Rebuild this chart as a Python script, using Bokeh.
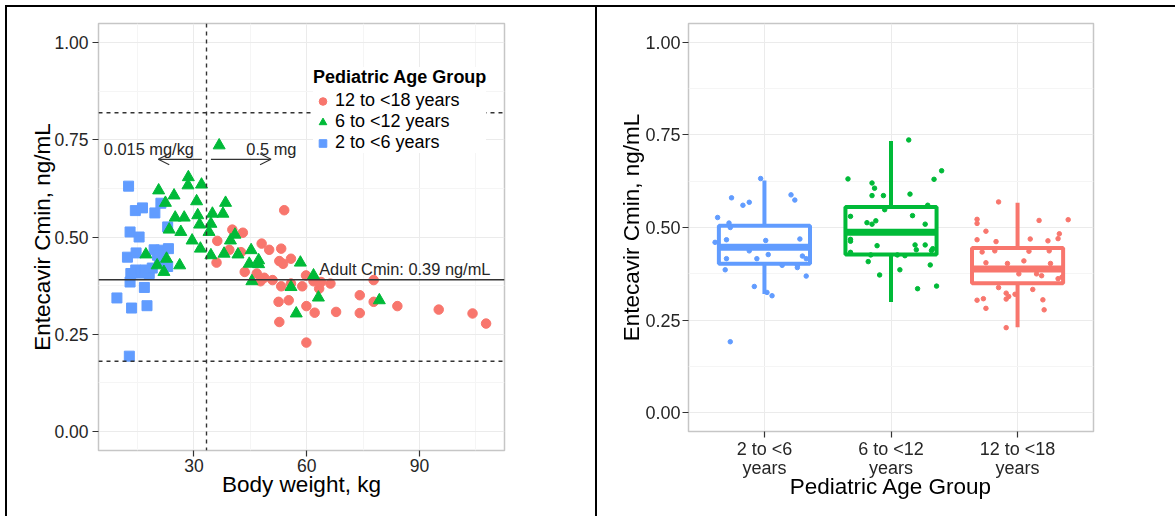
from bokeh.plotting import figure
from bokeh.models import (Span, Label, Arrow, OpenHead, Legend, LegendItem, FixedTicker,
                          ColumnDataSource, NumeralTickFormatter, Div)
from bokeh.embed import file_html
from bokeh.resources import INLINE

FONT = "Liberation Sans"
RED, GREEN, BLUE = "#F8766D", "#00BA38", "#619CFF"

# ---------------- data ----------------
group_labels = ["12 to <18 years", "6 to <12 years", "2 to <6 years"]

blue_wt = [12.6, 14.4, 16.3, 19.6, 21.2, 13.0, 15.4, 23.0, 12.3, 14.6, 19.4, 21.2, 23.2, 20.3,
           20.8, 23.0, 13.2, 14.5, 15.9, 17.0, 18.1, 18.9, 13.0, 16.8, 9.5, 13.4, 17.5, 12.8]
blue_cmin = [0.631, 0.568, 0.575, 0.562, 0.587, 0.513, 0.500, 0.526, 0.448, 0.459, 0.467, 0.466,
             0.470, 0.453, 0.440, 0.424, 0.406, 0.415, 0.407, 0.415, 0.406, 0.420, 0.384, 0.370,
             0.343, 0.317, 0.323, 0.193]

green_wt = [28.5, 28.4, 32.0, 20.6, 24.7, 22.4, 30.7, 38.4, 25.0, 27.4, 31.0, 34.9, 37.7, 31.5,
            34.5, 23.4, 26.5, 34.0, 29.5, 39.7, 31.7, 40.9, 36.7, 34.5, 38.0, 41.7, 45.2, 17.2,
            22.7, 26.2, 20.2, 22.0, 44.7, 47.2, 47.2, 58.3, 45.4, 61.8, 55.8, 63.1, 79.3, 57.2]
green_cmin = [0.654, 0.633, 0.635, 0.620, 0.607, 0.588, 0.592, 0.588, 0.550, 0.550, 0.556, 0.560,
              0.560, 0.532, 0.534, 0.519, 0.513, 0.513, 0.491, 0.491, 0.470, 0.506, 0.736, 0.453,
              0.457, 0.455, 0.466, 0.455, 0.444, 0.427, 0.427, 0.410, 0.431, 0.440, 0.430, 0.434,
              0.386, 0.401, 0.371, 0.344, 0.337, 0.303]

red_wt = [54.0, 36.2, 40.2, 43.0, 39.4, 42.5, 36.0, 48.0, 50.0, 53.2, 52.7, 55.8, 53.7, 43.5,
          46.7, 48.7, 47.7, 50.9, 53.2, 55.8, 58.8, 59.8, 61.8, 63.3, 63.8, 66.3, 77.8, 52.5,
          55.2, 59.9, 62.1, 67.8, 74.1, 74.1, 77.8, 84.1, 95.1, 104.1, 107.7, 52.7, 59.9]
red_cmin = [0.569, 0.490, 0.519, 0.511, 0.467, 0.461, 0.434, 0.483, 0.467, 0.470, 0.438, 0.444,
            0.431, 0.410, 0.406, 0.395, 0.386, 0.389, 0.373, 0.380, 0.373, 0.401, 0.386, 0.367,
            0.384, 0.380, 0.389, 0.333, 0.337, 0.322, 0.305, 0.307, 0.350, 0.304, 0.333, 0.322,
            0.313, 0.303, 0.277, 0.281, 0.228]

adult_cmin = 0.39
ref_high = 0.82
ref_low = 0.18
weight_cut = 33.33  # 0.5 mg / 0.015 mg/kg

# box plot panel
box_labels = ["2 to <6\nyears", "6 to <12\nyears", "12 to <18\nyears"]
box_low = [0.321, 0.299, 0.231]
box_q1 = [0.402, 0.427, 0.350]
box_med = [0.447, 0.487, 0.388]
box_q3 = [0.505, 0.555, 0.445]
box_high = [0.627, 0.733, 0.567]

jit_blue_dx = [-0.03, -0.26, -0.17, -0.12, 0.21, 0.24, -0.37, -0.28, -0.27, -0.39, -0.30, 0.01,
               0.28, -0.12, -0.30, -0.06, 0.03, 0.30, 0.33, 0.14, 0.26, 0.26, -0.31, 0.33, -0.08,
               0.02, 0.06, -0.27]
jit_blue_y = [0.632, 0.580, 0.560, 0.568, 0.588, 0.574, 0.527, 0.512, 0.500, 0.460, 0.467, 0.465,
              0.469, 0.437, 0.416, 0.416, 0.427, 0.423, 0.416, 0.398, 0.398, 0.392, 0.386, 0.369,
              0.341, 0.325, 0.316, 0.192]

jit_green_dx = [0.14, -0.34, -0.15, -0.13, -0.15, -0.06, 0.15, 0.34, 0.40, 0.29, -0.05, -0.32,
                0.17, -0.19, -0.15, -0.12, 0.27, -0.32, -0.32, -0.11, 0.19, 0.27, 0.20, 0.33,
                0.32, -0.16, 0.05, 0.11, -0.32, -0.18, 0.07, 0.31, -0.09, 0.21, 0.36]
jit_green_y = [0.736, 0.631, 0.620, 0.606, 0.586, 0.586, 0.590, 0.630, 0.653, 0.560, 0.548, 0.530,
               0.532, 0.513, 0.509, 0.518, 0.509, 0.468, 0.463, 0.451, 0.453, 0.453, 0.440, 0.443,
               0.438, 0.426, 0.426, 0.424, 0.433, 0.408, 0.386, 0.399, 0.372, 0.335, 0.342]

jit_red_dx = [-0.15, -0.32, -0.32, -0.25, 0.17, 0.40, -0.32, -0.17, 0.10, 0.24, 0.32, 0.33, -0.28,
              -0.18, 0.09, 0.25, -0.25, -0.08, 0.05, 0.26, 0.01, 0.15, 0.19, 0.32, 0.35, -0.15,
              0.12, -0.09, -0.07, -0.09, -0.02, -0.32, -0.27, 0.20, -0.25, 0.21, -0.09]
jit_red_y = [0.569, 0.522, 0.511, 0.490, 0.519, 0.521, 0.467, 0.462, 0.469, 0.464, 0.470, 0.483,
             0.434, 0.437, 0.436, 0.437, 0.405, 0.403, 0.410, 0.403, 0.375, 0.375, 0.370, 0.362,
             0.366, 0.338, 0.333, 0.323, 0.314, 0.307, 0.320, 0.304, 0.308, 0.305, 0.282, 0.278,
             0.230]

TXT = "#262626"


def style(p, tick_size, title_size):
    p.title.visible = False
    p.background_fill_color = "white"
    p.border_fill_color = "white"
    p.outline_line_color = "#C6C6C6"
    p.outline_line_width = 1.5
    for ax in p.axis:
        ax.axis_line_color = None
        ax.major_tick_line_color = "#333333"
        ax.major_tick_line_width = 1.2
        ax.major_tick_out = 6
        ax.major_tick_in = 0
        ax.minor_tick_line_color = None
        ax.major_label_text_font = FONT
        ax.major_label_text_font_size = tick_size
        ax.major_label_text_color = TXT
        ax.axis_label_text_font = FONT
        ax.axis_label_text_font_style = "normal"
        ax.axis_label_text_font_size = title_size
        ax.axis_label_text_color = "black"
    for g in (p.xgrid, p.ygrid):
        g.grid_line_color = "#EBEBEB"
        g.grid_line_width = 1
    p.ygrid.minor_grid_line_color = "#F5F5F5"


# ---------------- left panel: scatter ----------------
lx = (4.6, 112.6)
ly = (-0.05, 1.05)
p1 = figure(width=597, height=516, x_range=lx, y_range=ly, output_backend="svg",
            toolbar_location=None, min_border_left=98, min_border_right=93,
            min_border_top=23, min_border_bottom=66)
style(p1, "17.5px", "22.5px")
p1.xaxis.ticker = FixedTicker(ticks=[30, 60, 90], minor_ticks=[15, 45, 75, 105])
p1.yaxis.ticker = FixedTicker(ticks=[0, 0.25, 0.5, 0.75, 1.0],
                              minor_ticks=[0.125, 0.375, 0.625, 0.875])
p1.xgrid.minor_grid_line_color = "#F5F5F5"
p1.yaxis.formatter = NumeralTickFormatter(format="0.00")
p1.xaxis.axis_label = "Body weight, kg"
p1.yaxis.axis_label = "Entecavir Cmin, ng/mL"
p1.xaxis.major_label_standoff = 2
p1.xaxis.axis_label_standoff = -3
p1.yaxis.major_label_standoff = 4
p1.yaxis.axis_label_standoff = -4

for loc in (ref_high, ref_low):
    p1.add_layout(Span(location=loc, dimension="width", line_color="#333333",
                       line_width=1.4, line_dash="4 4"))
p1.add_layout(Span(location=weight_cut, dimension="height", line_color="#333333",
                   line_width=1.4, line_dash="4 4"))
p1.add_layout(Span(location=adult_cmin, dimension="width", line_color="#333333",
                   line_width=1.4))

r_blue = p1.scatter(blue_wt, blue_cmin, marker="square", size=10, color=BLUE)
r_red = p1.scatter(red_wt, red_cmin, marker="circle", size=9.5, color=RED)
r_green = p1.scatter(green_wt, green_cmin, marker="triangle", size=12, color=GREEN)

ann = dict(text_font=FONT, text_font_size="16.4px", text_color=TXT)
p1.add_layout(Label(x=18.0, y=0.726, text="0.015 mg/kg", text_align="center",
                    text_baseline="middle", **ann))
p1.add_layout(Label(x=50.6, y=0.726, text="0.5 mg", text_align="center",
                    text_baseline="middle", **ann))
p1.add_layout(Label(x=63.3, y=0.417, text="Adult Cmin: 0.39 ng/mL", text_align="left",
                    text_baseline="middle", **ann))
p1.add_layout(Arrow(x_start=32.1, y_start=0.70, x_end=20.5, y_end=0.70, line_color="#333333",
                    line_width=1.1, end=OpenHead(size=11, line_color="#333333", line_width=1.1)))
p1.add_layout(Arrow(x_start=34.5, y_start=0.70, x_end=50.5, y_end=0.70, line_color="#333333",
                    line_width=1.1, end=OpenHead(size=11, line_color="#333333", line_width=1.1)))

key = p1.rect(x=[], y=[], width=1, height=1, fill_color="white", line_color="#C8C8C8",
              line_width=1.3)
legend = Legend(items=[LegendItem(label=group_labels[0], renderers=[key, r_red]),
                       LegendItem(label=group_labels[1], renderers=[key, r_green]),
                       LegendItem(label=group_labels[2], renderers=[key, r_blue])],
                location=(215, 297), title="Pediatric Age Group",
                title_text_font=FONT, title_text_font_style="bold", title_text_font_size="18px",
                title_text_color="black", label_text_font=FONT, label_text_font_size="18px",
                label_text_color="black", glyph_height=20, glyph_width=19, label_height=20,
                spacing=-1, padding=3, label_standoff=3, title_standoff=2,
                border_line_color=None, background_fill_color="white", background_fill_alpha=1,
                margin=0)
p1.add_layout(legend)

# ---------------- right panel: box plots ----------------
rx = (0.4, 3.6)
ry = (-0.05, 1.05)
p2 = figure(width=578, height=516, x_range=rx, y_range=ry, output_backend="svg",
            toolbar_location=None, min_border_left=91, min_border_right=82,
            min_border_top=23, min_border_bottom=85,
            styles={"position": "fixed", "left": "597px", "top": "0px"})
style(p2, "18px", "22.5px")
xs = [i + 1 for i in range(len(box_labels))]
p2.xaxis.ticker = FixedTicker(ticks=xs)
p2.yaxis.ticker = FixedTicker(ticks=[0, 0.25, 0.5, 0.75, 1.0],
                              minor_ticks=[0.125, 0.375, 0.625, 0.875])
p2.yaxis.formatter = NumeralTickFormatter(format="0.00")
p2.xaxis.major_label_overrides = {x: lab for x, lab in zip(xs, box_labels)}
p2.xaxis.major_label_text_line_height = 0.98
p2.xaxis.axis_label = "Pediatric Age Group"
p2.yaxis.axis_label = "Entecavir Cmin, ng/mL"
p2.xaxis.major_label_standoff = 1
p2.xaxis.axis_label_standoff = -7
p2.yaxis.major_label_standoff = 2
p2.yaxis.axis_label_standoff = -2

box_colors = [BLUE, GREEN, RED]
hw = 0.36
src = ColumnDataSource(dict(
    x=xs, left=[x - hw for x in xs], right=[x + hw for x in xs],
    low=box_low, q1=box_q1, med=box_med, q3=box_q3, high=box_high, color=box_colors))
p2.segment(x0="x", y0="q3", x1="x", y1="high", source=src, line_color="color", line_width=4)
p2.segment(x0="x", y0="low", x1="x", y1="q1", source=src, line_color="color", line_width=4)
p2.quad(left="left", right="right", bottom="q1", top="q3", source=src, fill_color="white",
        line_color="color", line_width=4)
p2.segment(x0="left", y0="med", x1="right", y1="med", source=src, line_color="color",
           line_width=7)

for i, (dx, yy, c) in enumerate([(jit_blue_dx, jit_blue_y, BLUE),
                                 (jit_green_dx, jit_green_y, GREEN),
                                 (jit_red_dx, jit_red_y, RED)]):
    p2.scatter([xs[i] + d for d in dx], yy, size=4.5, color=c)

# ---------------- outer frame lines of the figure sheet ----------------
sheet = Div(text="", width=1170, height=520, margin=0,
            styles={"position": "fixed", "left": "5px", "top": "5px",
                    "border-top": "2px solid black", "border-left": "2px solid black",
                    "box-sizing": "border-box", "pointer-events": "none"})
divider = Div(text="", width=2, height=520, margin=0,
              styles={"position": "fixed", "left": "595px", "top": "5px",
                      "background-color": "black", "pointer-events": "none"})

open("out.html", "w").write(file_html([p1, p2, sheet, divider], INLINE))
